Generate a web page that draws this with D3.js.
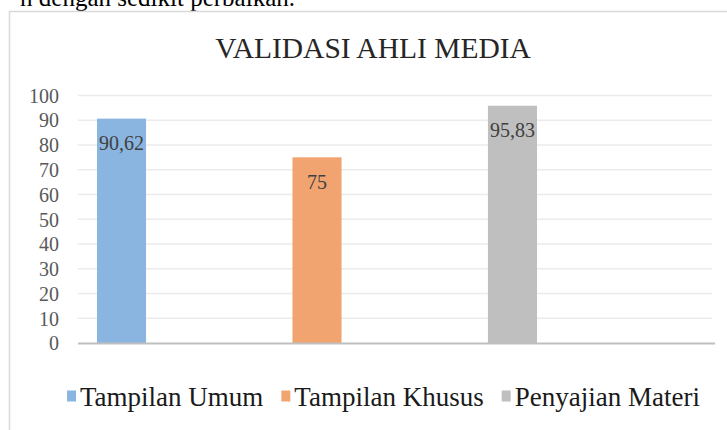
<!DOCTYPE html>
<html>
<head>
<meta charset="utf-8">
<script src="https://cdn.jsdelivr.net/npm/d3@7/dist/d3.min.js"></script>
<style>
  html, body { margin: 0; padding: 0; background: #fff; }
  svg { display: block; }
  text { font-family: "Liberation Serif", "Times New Roman", serif; }
</style>
</head>
<body>
<svg id="chart" width="727" height="430"></svg>
<script>
const categories = ["Tampilan Umum", "Tampilan Khusus", "Penyajian Materi"];
const values = [90.62, 75, 95.83];
const valueLabels = ["90,62", "75", "95,83"];
const colors = ["#8ab5e0", "#f2a470", "#bfbfbf"];
const yTicks = [0, 10, 20, 30, 40, 50, 60, 70, 80, 90, 100];
const title = "VALIDASI AHLI MEDIA";
const topText = "n dengan sedikit perbaikan.";

const svg = d3.select("#chart");

// preceding document text (cropped at top in the reference)
svg.append("text")
  .attr("x", 295).attr("y", 6)
  .attr("text-anchor", "end")
  .attr("font-size", 25)
  .attr("fill", "#000")
  .text(topText);

// chart frame
svg.append("path")
  .attr("d", "M9.5,435 L9.5,11.5 L735,11.5")
  .attr("fill", "none")
  .attr("stroke", "#d9d9d9")
  .attr("stroke-width", 1.5);

const plotLeft = 78, plotRight = 712;
const y = d3.scaleLinear().domain([0, 100]).range([343, 95.4]);
const x = d3.scaleBand().domain(categories).range([97, 537]).paddingInner(0.749).paddingOuter(0).align(0);

// gridlines
svg.append("g").selectAll("line")
  .data(yTicks.filter(d => d > 0))
  .join("line")
  .attr("x1", plotLeft).attr("x2", plotRight)
  .attr("y1", d => y(d)).attr("y2", d => y(d))
  .attr("stroke", "#ebebeb")
  .attr("stroke-width", 1.5);

// y axis labels
const yAxis = d3.axisLeft(y).tickValues(yTicks).tickSize(0).tickPadding(0);
const ga = svg.append("g").attr("transform", "translate(59,0)").call(yAxis);
ga.select(".domain").remove();
ga.selectAll("text")
  .attr("font-family", "Liberation Serif, Times New Roman, serif")
  .attr("font-size", 20)
  .attr("fill", "#595959")
  .attr("dy", "0.34em");

// bars
svg.append("g").selectAll("rect")
  .data(values)
  .join("rect")
  .attr("x", (d, i) => x(categories[i]))
  .attr("width", x.bandwidth())
  .attr("y", d => y(d))
  .attr("height", d => y(0) - y(d))
  .attr("fill", (d, i) => colors[i]);

// x axis baseline
svg.append("line")
  .attr("x1", plotLeft).attr("x2", plotRight + 3)
  .attr("y1", y(0) + 0.5).attr("y2", y(0) + 0.5)
  .attr("stroke", "#bfbfbf")
  .attr("stroke-width", 2);

// data labels
svg.append("g").selectAll("text")
  .data(values)
  .join("text")
  .attr("x", (d, i) => x(categories[i]) + x.bandwidth() / 2)
  .attr("y", d => y(d) + 31.5)
  .attr("text-anchor", "middle")
  .attr("font-size", 20)
  .attr("fill", "#404040")
  .text((d, i) => valueLabels[i]);

// title
svg.append("text")
  .attr("x", 373).attr("y", 58)
  .attr("text-anchor", "middle")
  .attr("font-size", 29.5)
  .attr("fill", "#262626")
  .text(title);

// legend
const legend = svg.append("g");
let lx = 67;
categories.forEach((c, i) => {
  legend.append("rect")
    .attr("x", lx).attr("y", 390.5)
    .attr("width", 9).attr("height", 11)
    .attr("fill", colors[i]);
  const t = legend.append("text")
    .attr("x", lx + 13).attr("y", 406)
    .attr("font-size", 27)
    .attr("fill", "#1a1a1a")
    .text(c);
  lx += 13 + t.node().getComputedTextLength() + 18;
});
</script>
</body>
</html>
